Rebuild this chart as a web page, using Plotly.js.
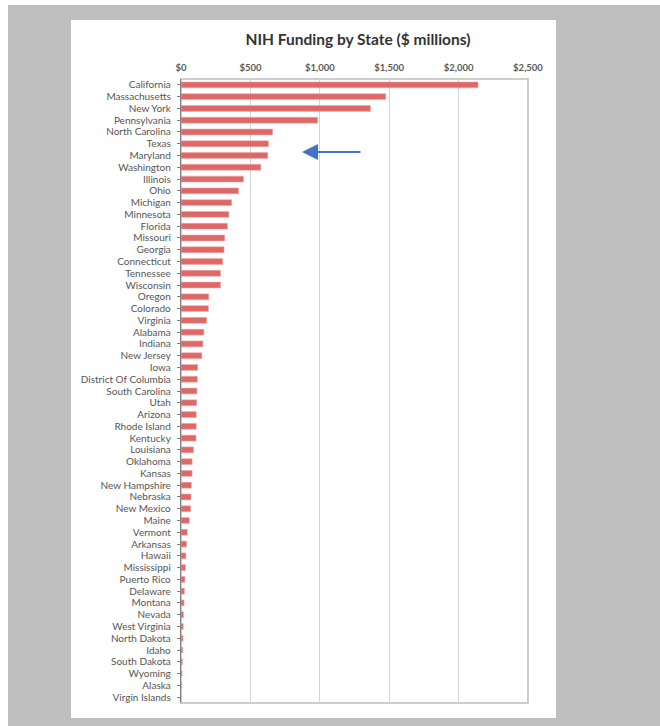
<!DOCTYPE html>
<html>
<head>
<meta charset="utf-8">
<script src="https://cdn.plot.ly/plotly-3.0.1.min.js"></script>
<style>
  html, body { margin: 0; padding: 0; background: #ffffff; }
  #outer { position: absolute; left: 8px; top: 5px; width: 652px; height: 721px; background: #BFBFBF; }
  #panel { position: absolute; left: 71px; top: 20px; width: 485px; height: 698px; background: #ffffff; }
  #chart { position: absolute; left: 0; top: 0; width: 660px; height: 726px; }
</style>
</head>
<body>
<div id="outer"></div>
<div id="panel"></div>
<div id="chart"></div>
<script>
const states = [
  "California", "Massachusetts", "New York", "Pennsylvania", "North Carolina",
  "Texas", "Maryland", "Washington", "Illinois", "Ohio", "Michigan", "Minnesota",
  "Florida", "Missouri", "Georgia", "Connecticut", "Tennessee", "Wisconsin",
  "Oregon", "Colorado", "Virginia", "Alabama", "Indiana", "New Jersey", "Iowa",
  "District Of Columbia", "South Carolina", "Utah", "Arizona", "Rhode Island",
  "Kentucky", "Louisiana", "Oklahoma", "Kansas", "New Hampshire", "Nebraska",
  "New Mexico", "Maine", "Vermont", "Arkansas", "Hawaii", "Mississippi",
  "Puerto Rico", "Delaware", "Montana", "Nevada", "West Virginia", "North Dakota",
  "Idaho", "South Dakota", "Wyoming", "Alaska", "Virgin Islands"
];
const funding = [
  2140, 1475, 1365, 985, 660,
  630, 625, 575, 450, 415, 365, 345,
  335, 315, 310, 300, 285, 285,
  200, 198, 185, 165, 158, 150, 120,
  118, 115, 113, 110, 110,
  108, 90, 80, 80, 75, 72,
  70, 60, 45, 40, 35, 32,
  28, 25, 22, 18, 16, 14,
  12, 10, 8, 6, 1
];
const xTickVals = [0, 500, 1000, 1500, 2000, 2500];
const xTickText = ["$0", "$500", "$1,000", "$1,500", "$2,000", "$2,500"];
const chartTitle = "NIH Funding by State ($ millions)";

const trace = {
  type: "bar",
  orientation: "h",
  x: funding,
  y: states,
  marker: { color: "#DE6868", line: { color: "#F0A8A8", width: 0.6 } },
  hoverinfo: "x+y"
};

const layout = {
  width: 660,
  height: 726,
  paper_bgcolor: "rgba(0,0,0,0)",
  plot_bgcolor: "#ffffff",
  margin: { l: 181, r: 132, t: 79, b: 23, pad: 0 },
  showlegend: false,
  bargap: 0.5,
  title: {
    text: chartTitle,
    x: 358 / 660,
    xanchor: "center",
    y: 1 - 40 / 726,
    yanchor: "middle",
    font: { family: "Lato, 'Open Sans', sans-serif", size: 15.5, color: "#333333", weight: 700 }
  },
  xaxis: {
    side: "top",
    range: [0, 2500],
    tickmode: "array",
    tickvals: xTickVals,
    ticktext: xTickText,
    showgrid: true,
    gridcolor: "#D4D4D4",
    gridwidth: 1,
    zeroline: false,
    showline: false,
    ticks: "",
    ticklabelstandoff: 5,
    tickfont: { family: "Lato, 'Open Sans', sans-serif", size: 9.5, color: "#595959", weight: 700 },
    fixedrange: true
  },
  yaxis: {
    type: "category",
    autorange: "reversed",
    tickmode: "array",
    tickvals: states,
    ticktext: states,
    showgrid: false,
    zeroline: false,
    showline: true,
    linecolor: "#7F7F7F",
    linewidth: 1.2,
    ticks: "outside",
    ticklen: 3,
    tickcolor: "#7F7F7F",
    ticklabelstandoff: 4,
    tickfont: { family: "Lato, 'Open Sans', sans-serif", size: 10, color: "#555555" },
    fixedrange: true
  },
  shapes: [
    {
      type: "rect", xref: "paper", yref: "paper",
      x0: 0, x1: 1, y0: 0, y1: 1,
      line: { color: "#BDBDBD", width: 1.5 },
      layer: "below"
    }
  ],
  annotations: [
    {
      xref: "paper", yref: "paper",
      x: (302 - 181) / 347, y: 1 - (152 - 79) / 624,
      ax: 60, ay: 0,
      axref: "pixel", ayref: "pixel",
      showarrow: true,
      arrowhead: 2,
      arrowsize: 1.6,
      arrowwidth: 2,
      arrowcolor: "#4472C4",
      text: ""
    }
  ]
};

Plotly.newPlot("chart", [trace], layout, { displayModeBar: false, staticPlot: true });
</script>
</body>
</html>
